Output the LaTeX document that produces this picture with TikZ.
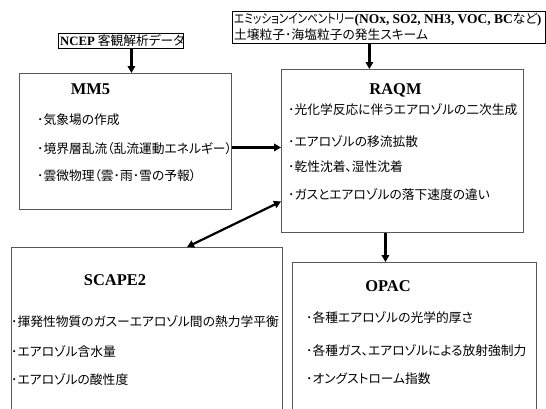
\documentclass[tikz,border=0pt]{standalone}
\usepackage{fontspec}
\setmainfont{Liberation Serif}
\newfontfamily\jp[RawFeature={+palt}]{Noto Sans CJK JP}
\newcommand\latb[1]{{\rmfamily\bfseries #1}}
\usetikzlibrary{arrows.meta,calc}
\begin{document}
\begin{tikzpicture}[x=1bp,y=-1bp,
 box/.style={draw=black!65, line width=0.9bp, inner sep=0, anchor=north west},
 lbl/.style={draw=black, line width=0.8bp, inner sep=0, anchor=north west},
 arr/.style={line width=2.2bp, -{Triangle[length=7bp,width=7.5bp]}},
 darr/.style={line width=2.2bp, {Triangle[length=7bp,width=7.5bp]}-{Triangle[length=7bp,width=7.5bp]}},
 ttl/.style={font=\bfseries\fontsize{16.5}{18}\selectfont, inner sep=0, anchor=base},
 itm/.style={font=\jp\fontsize{12.8}{14}\selectfont, inner sep=0, anchor=base west},
]
\clip (0,0) rectangle (546,408);
\fill[white] (0,0) rectangle (546,408);
% boxes
\node[lbl, minimum width=125bp, minimum height=15bp] (ncep) at (58,33) {};
\node[lbl, minimum width=313bp, minimum height=32bp] (emis) at (232,11) {};
\node[box, minimum width=212bp, minimum height=136bp] (mm5) at (19,73) {};
\node[box, minimum width=242bp, minimum height=163bp] (raqm) at (281,69) {};
\node[box, minimum width=271bp, minimum height=170bp] (scape) at (11,247) {};
\node[box, minimum width=244bp, minimum height=155bp] (opac) at (292,262) {};
% label texts
\node[itm] (ncept) at (60,45) {\latb{NCEP} 客観解析データ};
\node[itm] (em1) at (234,23.5) {\scalebox{0.83}[1]{エミッションインベントリー}{\fontsize{13.5}{14}\selectfont\latb{(NOx, SO2, NH3, VOC, BC}}など\latb{)}};
\node[itm] (em2) at (234,39.5) {土壌粒子･海塩粒子の発生スキーム};
% titles
\node[ttl] (mm5t) at (90.5,94) {MM5};
\node[ttl] (raqmt) at (395.5,94) {RAQM};
\node[ttl] (scapet) at (115,285) {SCAPE2};
\node[ttl] (opact) at (388,291) {OPAC};
% MM5 items
\node[itm] (m1) at (37,124) {･気象場の作成};
\node[itm] (m2) at (37,153) {･境界層乱流（乱流運動エネルギー）};
\node[itm] (m3) at (37,180.5) {･雲微物理（雲･雨･雪の予報）};
% RAQM items
\node[itm] (r1) at (288,114.5) {･光化学反応に伴うエアロゾルの二次生成};
\node[itm] (r2) at (288,146.5) {･エアロゾルの移流拡散};
\node[itm] (r3) at (288,171.5) {･乾性沈着、湿性沈着};
\node[itm] (r4) at (288,199.5) {･ガスとエアロゾルの落下速度の違い};
% SCAPE2 items
\node[itm] (s1) at (11,326.5) {･揮発性物質のガスーエアロゾル間の熱力学平衡};
\node[itm] (s2) at (11,356.5) {･エアロゾル含水量};
\node[itm] (s3) at (11,384.5) {･エアロゾルの酸性度};
% OPAC items
\node[itm] (o1) at (306,322) {･各種エアロゾルの光学的厚さ};
\node[itm] (o2) at (306,355.5) {･各種ガス、エアロゾルによる放射強制力};
\node[itm] (o3) at (306,383.5) {･オングストローム指数};
% arrows
\draw[arr] ($(ncep.south)+(10.5,0)$) coordinate (a) -- (a |- mm5.north);
\draw[arr] ($(emis.south)+(-19.5,0)$) coordinate (b) -- (b |- raqm.north);
\draw[arr] ($(mm5.east)+(0,6)$) coordinate (c) -- (c -| raqm.west);
\draw[darr] ($(raqm.west)+(0,50.5)$) -- ($(scape.north west)+(176,0)$);
\draw[arr] ($(raqm.south)+(-17,0)$) coordinate (d) -- (d |- opac.north);
\end{tikzpicture}
\end{document}
